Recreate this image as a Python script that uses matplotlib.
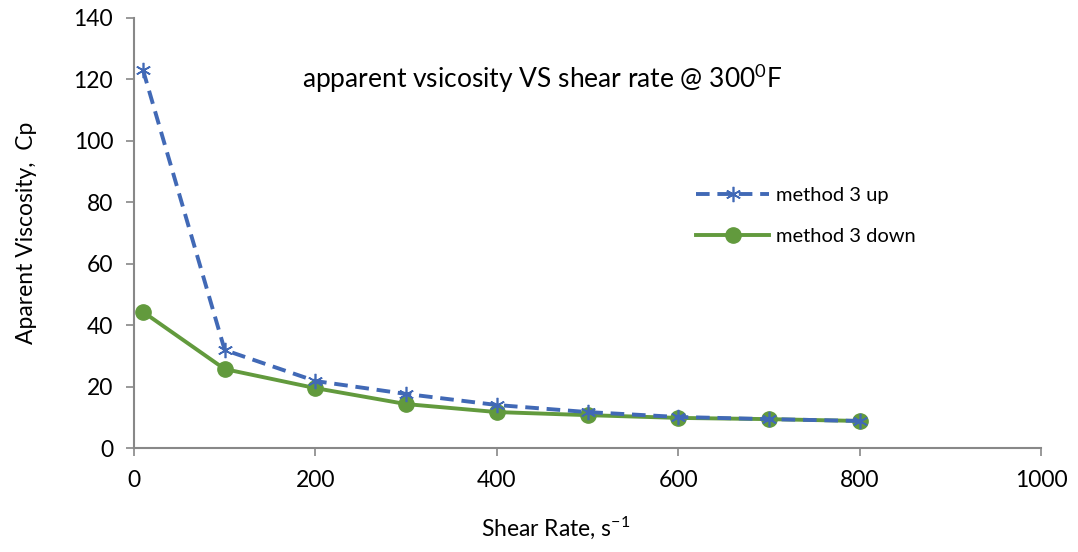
import matplotlib.pyplot as plt

plt.rcParams['font.family'] = ['Lato', 'DejaVu Sans']
plt.rcParams['mathtext.fontset'] = 'custom'
plt.rcParams['mathtext.rm'] = 'Lato'
plt.rcParams['mathtext.it'] = 'Lato'

shear_rate = [10, 100, 200, 300, 400, 500, 600, 700, 800]
visc_up = [123, 31.9, 21.8, 17.6, 14.0, 11.7, 10.1, 9.4, 8.8]
visc_down = [44.3, 25.7, 19.5, 14.3, 11.7, 10.7, 9.8, 9.4, 8.8]

fig = plt.figure(figsize=(10.78, 5.52), dpi=100)
ax = fig.add_axes([0.1243, 0.1884, 0.8414, 0.779])

ax.plot(shear_rate, visc_down, color='#629a3d', lw=2.8, marker='o', ms=11,
        label='method 3 down', zorder=2)
ax.plot(shear_rate, visc_up, color='#4169b6', lw=2.8, ls=(0, (3.5, 2)), marker=(6, 2, 0),
        ms=11, mew=1.2, label='method 3 up', zorder=3)

ax.set_xlim(0, 1000)
ax.set_ylim(0, 140)
ax.set_xticks(range(0, 1001, 200))
ax.set_yticks(range(0, 141, 20))
ax.tick_params(labelsize=16.5, color='#888888', length=6, width=1.2)
ax.tick_params(axis='y', pad=9)
ax.tick_params(axis='x', pad=10)
for s in ['top', 'right']:
    ax.spines[s].set_visible(False)
for s in ['left', 'bottom']:
    ax.spines[s].set_color('#888888')
    ax.spines[s].set_linewidth(1.5)

ax.set_xlabel('Shear Rate, s$^{\\mathrm{-1}}$', fontsize=16.5)
ax.xaxis.set_label_coords(0.465, -0.155)
ax.set_ylabel('Aparent Viscosity,  Cp', fontsize=16.5, labelpad=26)

ax.text(0.45, 0.86, 'apparent vsicosity VS shear rate @ 300$^{\\mathrm{0}}$F',
        transform=ax.transAxes, ha='center', va='center', fontsize=19)

h, l = ax.get_legend_handles_labels()
ax.legend(h[::-1], l[::-1], loc='center left', bbox_to_anchor=(0.6, 0.54),
          frameon=False, fontsize=14.5, handlelength=3.6, handletextpad=0.35,
          labelspacing=1.2)

fig.savefig('out.png', dpi=100)
